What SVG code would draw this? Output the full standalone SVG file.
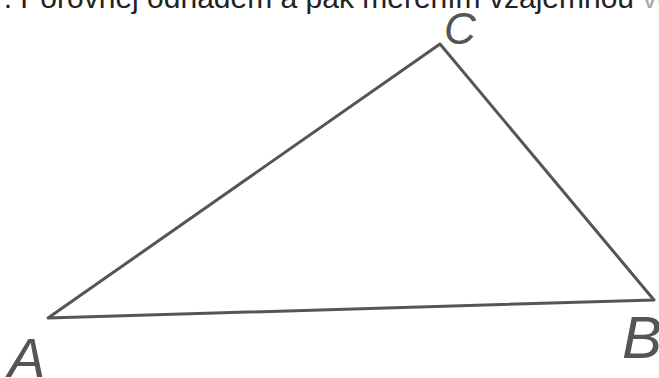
<svg xmlns="http://www.w3.org/2000/svg" width="659" height="378" viewBox="0 0 659 378">
<style>
.head{font-family:"Liberation Sans",Arial,sans-serif;font-size:30px;fill:#222}
.lbl{font-family:"Liberation Sans",Arial,sans-serif;font-style:italic;fill:#555}
.edge{fill:none;stroke:#555;stroke-width:3;stroke-linejoin:round;stroke-linecap:round}
</style>
<rect width="659" height="378" fill="#fff"/>
<text class="head" x="-13" y="7.5">7. Porovnej odhadem a pak měřením vzájemnou <tspan fill="#aaa">ve</tspan></text>
<g id="connectors">
<polygon class="edge" points="48,318 440,44 654,300"/>
</g>
<g id="A"><text class="lbl" x="8" y="377" font-size="56">A</text></g>
<g id="B"><text class="lbl" x="622" y="358" font-size="60">B</text></g>
<g id="C"><text class="lbl" x="444" y="44" font-size="44">C</text></g>
</svg>
